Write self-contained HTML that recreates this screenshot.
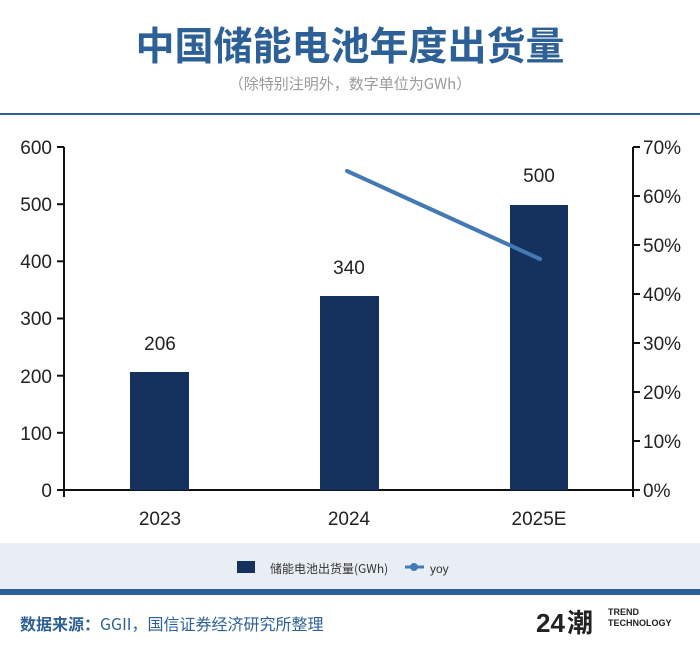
<!DOCTYPE html>
<html><head><meta charset="utf-8"><style>
body{margin:0;width:700px;height:655px;background:#fff;overflow:hidden;font-family:"Liberation Sans","Noto Sans CJK SC",sans-serif;}
</style></head><body>
<svg width="700" height="655" xmlns="http://www.w3.org/2000/svg" font-family="Liberation Sans, Noto Sans CJK SC, sans-serif">
<text x="350" y="60" text-anchor="middle" font-size="39" font-weight="bold" fill="#2d6096" font-family="Noto Sans CJK SC, sans-serif">中国储能电池年度出货量</text>
<text x="350" y="89" text-anchor="middle" font-size="15" fill="#9a9a9a" font-family="Noto Sans CJK SC, sans-serif">（除特别注明外，数字单位为GWh）</text>
<rect x="0" y="113" width="700" height="2" fill="#2d6096"/>
<g stroke="#111" stroke-width="2" fill="none">
<line x1="64" y1="147" x2="64" y2="497"/>
<line x1="64" y1="490" x2="633" y2="490"/>
<line x1="633" y1="147" x2="633" y2="497"/>
<line x1="57" y1="147" x2="64" y2="147"/><line x1="57" y1="204.2" x2="64" y2="204.2"/><line x1="57" y1="261.3" x2="64" y2="261.3"/><line x1="57" y1="318.5" x2="64" y2="318.5"/><line x1="57" y1="375.7" x2="64" y2="375.7"/><line x1="57" y1="432.8" x2="64" y2="432.8"/><line x1="57" y1="490" x2="64" y2="490"/>
<line x1="633" y1="147" x2="640" y2="147"/><line x1="633" y1="196" x2="640" y2="196"/><line x1="633" y1="245" x2="640" y2="245"/><line x1="633" y1="294" x2="640" y2="294"/><line x1="633" y1="343" x2="640" y2="343"/><line x1="633" y1="392" x2="640" y2="392"/><line x1="633" y1="441" x2="640" y2="441"/><line x1="633" y1="490" x2="640" y2="490"/>
</g>
<g font-size="19" fill="#222" text-anchor="end">
<text x="52" y="154">600</text><text x="52" y="211">500</text><text x="52" y="268">400</text><text x="52" y="325">300</text><text x="52" y="383">200</text><text x="52" y="440">100</text><text x="52" y="497">0</text>
</g>
<g font-size="19" fill="#222">
<text x="643" y="154">70%</text><text x="643" y="203">60%</text><text x="643" y="252">50%</text><text x="643" y="301">40%</text><text x="643" y="350">30%</text><text x="643" y="399">20%</text><text x="643" y="448">10%</text><text x="643" y="497">0%</text>
</g>
<g fill="#15325f">
<rect x="130" y="372" width="59" height="118"/>
<rect x="320" y="296" width="59" height="194"/>
<rect x="510" y="205" width="58" height="285"/>
</g>
<g font-size="19" fill="#222" text-anchor="middle">
<text x="160" y="350">206</text><text x="349" y="274">340</text><text x="539" y="182">500</text>
<text x="160" y="525">2023</text><text x="349" y="525">2024</text><text x="539" y="525">2025E</text>
</g>
<line x1="347" y1="171" x2="540" y2="259" stroke="#4379b4" stroke-width="4" stroke-linecap="round"/>
<rect x="0" y="543" width="700" height="47" fill="#e9eef4"/>
<rect x="0" y="589" width="700" height="6" fill="#2d6096"/>
<rect x="237" y="561" width="18" height="12" fill="#15325f"/>
<text x="270" y="573" font-size="12" fill="#333" font-family="Noto Sans CJK SC, sans-serif">储能电池出货量(GWh)</text>
<line x1="405" y1="567" x2="424" y2="567" stroke="#4379b4" stroke-width="3"/>
<circle cx="414" cy="567" r="4" fill="#4379b4"/>
<text x="430" y="573" font-size="12" fill="#333">yoy</text>
<text x="20" y="630" font-size="16" fill="#2d6096" font-weight="bold" font-family="Noto Sans CJK SC, sans-serif">数据来源：<tspan font-weight="normal">GGII，国信证券经济研究所整理</tspan></text>
<text x="536" y="632" font-size="26" font-weight="bold" fill="#222">24</text>
<text x="567" y="632" font-size="26" font-weight="bold" fill="#222" font-family="Noto Sans CJK SC, sans-serif">潮</text>
<text x="608" y="615" font-size="9" font-weight="bold" fill="#222">TREND</text>
<text x="608" y="626" font-size="9" font-weight="bold" fill="#222">TECHNOLOGY</text>
</svg>
</body></html>
